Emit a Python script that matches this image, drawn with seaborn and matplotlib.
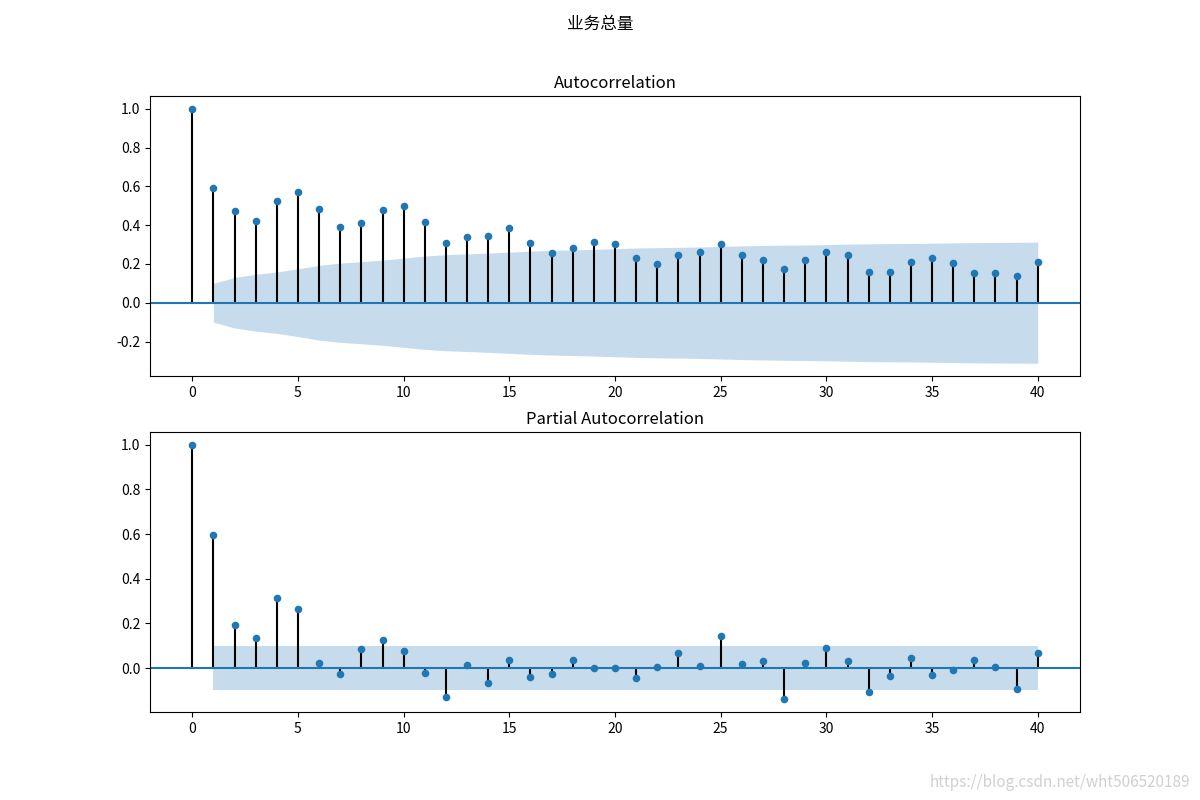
import numpy as np
import matplotlib
matplotlib.use("Agg")
import matplotlib.pyplot as plt
import seaborn as sns

plt.rcParams['font.family'] = ['Noto Sans CJK SC', 'DejaVu Sans']
plt.rcParams['axes.unicode_minus'] = False

# ---- data ----
lags = list(range(0, 41))
acf_values = [1.000, 0.589, 0.475, 0.423, 0.522, 0.573, 0.485, 0.392, 0.413, 0.480,
              0.501, 0.418, 0.306, 0.340, 0.345, 0.387, 0.309, 0.257, 0.283, 0.311,
              0.304, 0.232, 0.200, 0.247, 0.263, 0.304, 0.247, 0.221, 0.175, 0.221,
              0.263, 0.247, 0.159, 0.159, 0.211, 0.232, 0.207, 0.154, 0.154, 0.138,
              0.211]
pacf_values = [1.000, 0.595, 0.191, 0.133, 0.313, 0.263, 0.022, -0.028, 0.084, 0.124,
               0.075, -0.024, -0.131, 0.012, -0.069, 0.034, -0.042, -0.028, 0.034, 0.000,
               0.000, -0.046, 0.003, 0.066, 0.008, 0.142, 0.017, 0.030, -0.140, 0.021,
               0.088, 0.030, -0.109, -0.037, 0.043, -0.033, -0.010, 0.034, 0.003, -0.096,
               0.066]
n_obs = 384          # sample size implied by the +/-0.1 PACF band
z_crit = 1.96
suptitle = "业务总量"
titles = ["Autocorrelation", "Partial Autocorrelation"]
watermark = "https://blog.csdn.net/wht506520189"

lags_arr = np.array(lags)
acf_arr = np.array(acf_values)
pacf_arr = np.array(pacf_values)

# Bartlett band for ACF, constant band for PACF (as statsmodels does)
acf_se = np.sqrt((1 + 2 * np.concatenate([[0], np.cumsum(acf_arr[1:-1] ** 2)])) / n_obs)
acf_band = z_crit * acf_se            # for lags 1..40
pacf_band = np.full(len(lags) - 1, z_crit / np.sqrt(n_obs))

fig, axes = plt.subplots(2, 1, figsize=(12, 8), dpi=100)


def draw(ax, vals, band, title):
    ax.vlines(lags_arr, [0], vals, colors='black', linewidth=1.5)
    ax.axhline(0, color='C0', linewidth=1.5)
    sns.scatterplot(x=lags_arr, y=vals, ax=ax, color='C0', s=30, linewidth=0,
                    edgecolor=None, zorder=3, legend=False)
    ax.fill_between(lags_arr[1:], -band, band, alpha=0.25, color='C0', linewidth=0)
    ax.margins(0.05)
    ax.set_title(title, fontsize=12)
    ax.set_xlabel("")
    ax.set_ylabel("")


draw(axes[0], acf_arr, acf_band, titles[0])
draw(axes[1], pacf_arr, pacf_band, titles[1])

fig.suptitle(suptitle, fontsize=12)
fig.text(0.992, 0.022, watermark, ha='right', va='center', fontsize=11,
         color='#d0d0d0')

fig.savefig("out.png", dpi=100)
